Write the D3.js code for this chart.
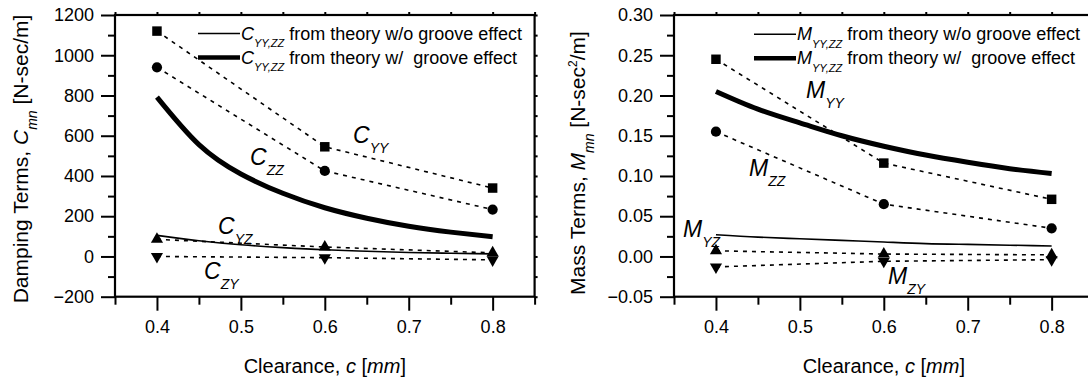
<!DOCTYPE html>
<html lang="en">
<head>
<meta charset="UTF-8">
<title>Damping and mass terms vs clearance</title>
<script src="https://d3js.org/d3.v7.min.js"></script>
<style>
  body { margin: 0; background: #fff; }
  svg { display: block; font-family: "Liberation Sans", Arial, sans-serif; }
</style>
</head>
<body>
<div id="chart"></div>
<script>
// test clearances (mm) for the measured points
const clearance = [0.4, 0.6, 0.8];
// clearances along the theory curves
const curveClearance = [0.4, 0.45, 0.5, 0.55, 0.6, 0.65, 0.7, 0.75, 0.8];

// damping coefficients [N-sec/m]
const cYY = [1120, 545, 340];
const cZZ = [940, 425, 233];
const cYZ = [85, 47, 18];
const cZY = [0, -6, -17];
const cTheoryNoGroove = [105, 78, 58, 44, 33, 26, 20, 16, 13];
const cTheoryGroove = [792, 556, 410, 314, 242, 190, 150, 121, 98];

// mass coefficients [N-sec^2/m]
const mYY = [0.245, 0.116, 0.071];
const mZZ = [0.155, 0.065, 0.035];
const mYZ = [0.007, 0.003, 0.002];
const mZY = [-0.013, -0.006, -0.004];
const mTheoryNoGroove = [0.027, 0.024, 0.022, 0.020, 0.018, 0.016, 0.015, 0.014, 0.013];
const mTheoryGroove = [0.205, 0.183, 0.166, 0.150, 0.137, 0.126, 0.117, 0.109, 0.103];

// ticks
const xMajor = [0.4, 0.5, 0.6, 0.7, 0.8];
const xMinor = [0.35, 0.45, 0.55, 0.65, 0.75, 0.85];
const cMajor = [-200, 0, 200, 400, 600, 800, 1000, 1200];
const cMinor = [-100, 100, 300, 500, 700, 900, 1100];
const mMajor = [-0.05, 0, 0.05, 0.10, 0.15, 0.20, 0.25, 0.30];
const mMinor = [-0.025, 0.025, 0.075, 0.125, 0.175, 0.225, 0.275];

const W = 1088, H = 378;
const svg = d3.select("#chart").append("svg")
    .attr("width", W).attr("height", H);

// text with italic / subscript / superscript pieces
function richText(sel, parts, size) {
    let shift = 0;
    parts.forEach(p => {
        const target = p.sub ? size * 0.42 : p.sup ? -size * 0.38 : 0;
        sel.append("tspan")
            .attr("dy", target - shift)
            .attr("font-size", (p.sub || p.sup) ? p.small || size * 0.62 : size)
            .attr("font-style", p.it ? "italic" : "normal")
            .text(p.t);
        shift = target;
    });
    return sel;
}

function drawPanel(cfg) {
    const x = d3.scaleLinear().domain([0.35, 0.85]).range([cfg.left, cfg.left + 419.6]);
    const y = d3.scaleLinear().domain(cfg.yDomain).range([296.7, 15]);
    const g = svg.append("g");

    const axisStyle = a => {
        a.select(".domain").remove();
        a.selectAll(".tick line").attr("stroke", "#000").attr("stroke-width", 2);
        a.selectAll(".tick text").attr("font-size", 18).attr("fill", "#000")
            .attr("font-family", "'Liberation Sans', Arial, sans-serif");
    };

    // bottom axis
    g.append("g").attr("transform", "translate(0,296.7)")
        .call(d3.axisBottom(x).tickValues(xMajor).tickSize(14).tickPadding(10).tickFormat(d3.format(".1f")))
        .call(axisStyle);
    g.append("g").attr("transform", "translate(0,296.7)")
        .call(d3.axisBottom(x).tickValues(xMinor).tickSize(8).tickFormat(""))
        .call(axisStyle);
    // top axis
    g.append("g").attr("transform", "translate(0,15)")
        .call(d3.axisTop(x).tickValues(xMajor.concat(xMinor)).tickSize(3).tickFormat(""))
        .call(axisStyle);
    // left axis
    g.append("g").attr("transform", `translate(${cfg.left},0)`)
        .call(d3.axisLeft(y).tickValues(cfg.major).tickSize(14).tickPadding(7).tickFormat(cfg.fmt))
        .call(axisStyle);
    g.append("g").attr("transform", `translate(${cfg.left},0)`)
        .call(d3.axisLeft(y).tickValues(cfg.minor).tickSize(7).tickFormat(""))
        .call(axisStyle);
    // right axis
    g.append("g").attr("transform", `translate(${x(0.85)},0)`)
        .call(d3.axisRight(y).tickValues(cfg.major.concat(cfg.minor)).tickSize(3).tickFormat(""))
        .call(axisStyle);

    // frame
    g.append("rect")
        .attr("x", x(0.35)).attr("y", y(cfg.yDomain[1]))
        .attr("width", x(0.85) - x(0.35)).attr("height", y(cfg.yDomain[0]) - y(cfg.yDomain[1]))
        .attr("fill", "none").attr("stroke", "#000").attr("stroke-width", 2.2);

    const plot = g.append("g");
    const line = d3.line().x(d => x(d[0])).y(d => y(d[1]));
    const smooth = d3.line().x(d => x(d[0])).y(d => y(d[1])).curve(d3.curveNatural);

    // theory curves
    plot.append("path").datum(d3.zip(curveClearance, cfg.noGroove))
        .attr("d", smooth).attr("fill", "none").attr("stroke", "#000").attr("stroke-width", 1.6);
    plot.append("path").datum(d3.zip(curveClearance, cfg.groove))
        .attr("d", smooth).attr("fill", "none").attr("stroke", "#000").attr("stroke-width", 5);

    // measured series: dotted connectors + markers
    const series = [
        { v: cfg.yy, sym: d3.symbolSquare, size: 90, rot: 0 },
        { v: cfg.zz, sym: d3.symbolCircle, size: 82, rot: 0 },
        { v: cfg.yz, sym: d3.symbolTriangle, size: 64, rot: 0 },
        { v: cfg.zy, sym: d3.symbolTriangle, size: 64, rot: 180 }
    ];
    series.forEach(s => {
        plot.append("path").datum(d3.zip(clearance, s.v))
            .attr("d", line).attr("fill", "none").attr("stroke", "#000")
            .attr("stroke-width", 1.6).attr("stroke-dasharray", "4,5");
    });
    series.forEach(s => {
        plot.selectAll(null).data(d3.zip(clearance, s.v)).join("path")
            .attr("d", d3.symbol(s.sym, s.size))
            .attr("transform", d => `translate(${x(d[0])},${y(d[1])}) rotate(${s.rot})`)
            .attr("fill", "#000");
    });

    // series labels
    cfg.labels.forEach(l => {
        richText(plot.append("text").attr("x", l.x).attr("y", l.y), [
            { t: cfg.letter, it: true },
            { t: l.sub, it: true, sub: true, small: 14 }
        ], 23);
    });

    // legend
    const leg = g.append("g");
    [[1.6, "w/o groove effect"], [4.5, "w/  groove effect"]].forEach((r, i) => {
        const ly = cfg.legY + i * 24;
        leg.append("line")
            .attr("x1", cfg.legX).attr("x2", cfg.legX + 42)
            .attr("y1", ly).attr("y2", ly)
            .attr("stroke", "#000").attr("stroke-width", r[0]);
        richText(leg.append("text").attr("x", cfg.legX + 43).attr("y", ly + 6).attr("xml:space", "preserve"), [
            { t: cfg.letter, it: true },
            { t: "YY,ZZ", it: true, sub: true, small: 11 },
            { t: " from theory " + r[1] }
        ], 18);
    });

    // axis titles
    richText(g.append("text").attr("x", x(0.6)).attr("y", 373)
        .attr("text-anchor", "middle"), [
        { t: "Clearance, " }, { t: "c", it: true }, { t: " [" }, { t: "mm", it: true }, { t: "]" }
    ], 20);
    richText(g.append("text")
        .attr("transform", `translate(${cfg.titleX},${cfg.titleY}) rotate(-90)`)
        .attr("text-anchor", "middle"), cfg.title, 21);
}

drawPanel({
    left: 115, yDomain: [-200, 1200], major: cMajor, minor: cMinor, fmt: d3.format("d"),
    yy: cYY, zz: cZZ, yz: cYZ, zy: cZY, noGroove: cTheoryNoGroove, groove: cTheoryGroove,
    letter: "C", legX: 198, legY: 33.5, titleX: 28, titleY: 159,
    labels: [
        { sub: "YY", x: 353, y: 143 },
        { sub: "ZZ", x: 250, y: 165 },
        { sub: "YZ", x: 218, y: 234 },
        { sub: "ZY", x: 204, y: 279 }
    ],
    title: [{ t: "Damping Terms, " }, { t: "C", it: true }, { t: "mn", it: true, sub: true, small: 14 }, { t: " [N-sec/m]" }]
});

drawPanel({
    left: 674, yDomain: [-0.05, 0.30], major: mMajor, minor: mMinor, fmt: d3.format(".2f"),
    yy: mYY, zz: mZZ, yz: mYZ, zy: mZY, noGroove: mTheoryNoGroove, groove: mTheoryGroove,
    letter: "M", legX: 754, legY: 34.3, titleX: 585, titleY: 163,
    labels: [
        { sub: "YY", x: 806, y: 98 },
        { sub: "ZZ", x: 749, y: 176 },
        { sub: "YZ", x: 683, y: 237 },
        { sub: "ZY", x: 888, y: 284 }
    ],
    title: [{ t: "Mass Terms, " }, { t: "M", it: true }, { t: "mn", it: true, sub: true, small: 14 },
        { t: " [N-sec" }, { t: "2", sup: true, small: 12 }, { t: "/m]" }]
});
</script>
</body>
</html>
